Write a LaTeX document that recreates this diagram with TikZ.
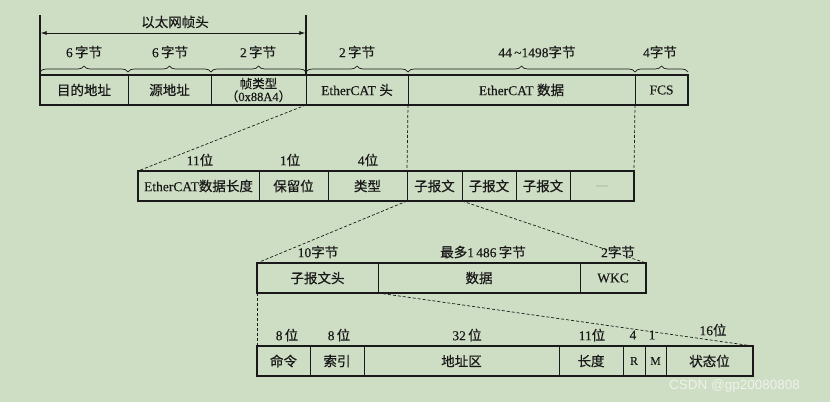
\documentclass[tikz,border=0pt]{standalone}
\usepackage{fontspec}
\setmainfont[FakeBold=0.25]{Liberation Serif}
\newfontfamily\cjk[FakeBold=0.6]{Noto Sans CJK SC}
\newfontfamily\wmfont{Liberation Sans}
\newcommand\zhtext[1]{{\cjk #1}}
\usetikzlibrary{decorations.pathreplacing,arrows.meta}
\definecolor{bg}{RGB}{206,222,196}
\definecolor{ink}{RGB}{25,25,25}
\definecolor{wmcol}{RGB}{238,242,235}
\begin{document}
\begin{tikzpicture}[x=1pt,y=-1pt,
  cell/.style={draw=ink,line width=0.7pt,minimum height=30pt,inner sep=0pt,outer sep=0pt,anchor=north west,font=\fontsize{13.5}{15}\selectfont,text=ink},
  lbl/.style={font=\fontsize{13.5}{15}\selectfont,text=ink,inner sep=0pt},
  brc/.style={decorate,decoration={brace,amplitude=6pt},draw=ink,line width=0.7pt},
  dsh/.style={draw=ink,dash pattern=on 3pt off 2pt,line width=0.7pt},
  frame/.style={draw=ink,line width=1.3pt}
]
\fill[bg] (0,0) rectangle (830,402);
\useasboundingbox (0,0) rectangle (830,402);

% ---------- row 1 : Ethernet frame ----------
\node[cell,minimum width=88pt] (a1) at (40,75) {\zhtext{目的地址}};
\node[cell,minimum width=83pt] (a2) at (128,75) {\zhtext{源地址}};
\node[cell,minimum width=95pt,align=center,font=\fontsize{12.5}{11.5}\selectfont] (a3) at (211,75) {\zhtext{帧类型}\\\zhtext{（}0x88A4\zhtext{）}};
\node[cell,minimum width=102pt] (a4) at (306,75) {EtherCAT \zhtext{头}};
\node[cell,minimum width=227pt] (a5) at (408,75) {EtherCAT \zhtext{数据}};
\node[cell,minimum width=53pt] (a6) at (635,75) {FCS};
\draw[frame] (a1.north west) rectangle (a6.south east);

% braces
\draw[brc] ([yshift=3pt]a1.north west) -- ([yshift=3pt]a1.north east);
\draw[brc] ([yshift=3pt]a2.north west) -- ([yshift=3pt]a2.north east);
\draw[brc] ([yshift=3pt]a3.north west) -- ([yshift=3pt]a3.north east);
\draw[brc] ([yshift=3pt]a4.north west) -- ([yshift=3pt]a4.north east);
\draw[brc] ([yshift=3pt]a5.north west) -- ([yshift=3pt]a5.north east);
\draw[brc] ([yshift=3pt]a6.north west) -- ([yshift=3pt]a6.north east);
\node[lbl] (b1) at (84,52) {6\,\zhtext{字节}};
\node[lbl] (b2) at (170,52) {6\,\zhtext{字节}};
\node[lbl] (b3) at (258,52) {2\,\zhtext{字节}};
\node[lbl] (b4) at (357,52) {2\,\zhtext{字节}};
\node[lbl] (b5) at (537,52) {44\,\textasciitilde1498\zhtext{字节}};
\node[lbl] (b6) at (660,52) {4\zhtext{字节}};

% Ethernet header span
\coordinate (hL) at (40,15);
\coordinate (hR) at (306,15);
\coordinate (arL) at (40.7,33);
\coordinate (arR) at (305.3,33);
\draw[ink,line width=1.3pt] (hL) -- (a1.north west);
\draw[ink,line width=1.3pt] (hR) -- (a4.north west);
\draw[ink,line width=0.7pt,{Latex[length=6pt,width=4pt]}-{Latex[length=6pt,width=4pt]}] (arL) -- (arR);
\node[lbl] (eh) at (175,22) {\zhtext{以太网帧头}};

% ---------- row 2 : EtherCAT data ----------
\node[cell,minimum width=121pt] (c1) at (138,171) {EtherCAT\zhtext{数据长度}};
\node[cell,minimum width=69pt] (c2) at (259,171) {\zhtext{保留位}};
\node[cell,minimum width=79pt] (c3) at (328,171) {\zhtext{类型}};
\node[cell,minimum width=55pt] (c4) at (407,171) {\zhtext{子报文}};
\node[cell,minimum width=54pt] (c5) at (462,171) {\zhtext{子报文}};
\node[cell,minimum width=54pt] (c6) at (516,171) {\zhtext{子报文}};
\node[cell,minimum width=64pt,font=\fontsize{8}{8}\selectfont,text=ink!55] (c7) at (570,171) {......};
\draw[frame] (c1.north west) rectangle (c7.south east);
\node[lbl] (l1) at (200,160) {11\zhtext{位}};
\node[lbl] (l2) at (290,160) {1\zhtext{位}};
\node[lbl] (l3) at (368,160) {4\zhtext{位}};

\draw[dsh] (a3.south east) -- (c1.north west);
\draw[dsh] (a5.south west) -- (c4.north west);
\draw[dsh] (a5.south east) -- (c7.north east);

% ---------- row 3 : sub-telegram ----------
\node[cell,minimum width=121pt] (d1) at (257,263) {\zhtext{子报文头}};
\node[cell,minimum width=202pt] (d2) at (378,263) {\zhtext{数据}};
\node[cell,minimum width=66pt] (d3) at (580,263) {WKC};
\draw[frame] (d1.north west) rectangle (d3.south east);
\node[lbl] (m1) at (318,252) {10\zhtext{字节}};
\node[lbl] (m2) at (483,252) {\zhtext{最多}1\,486\,\zhtext{字节}};
\node[lbl] (m3) at (618,252) {2\zhtext{字节}};

\draw[dsh] (c4.south west) -- (d1.north west);
\draw[dsh] (c5.south west) -- (d3.north east);

% ---------- row 4 : sub-telegram header ----------
\node[cell,minimum width=53pt] (e1) at (257,346) {\zhtext{命令}};
\node[cell,minimum width=54pt] (e2) at (310,346) {\zhtext{索引}};
\node[cell,minimum width=195pt] (e3) at (364,346) {\zhtext{地址区}};
\node[cell,minimum width=64pt] (e4) at (559,346) {\zhtext{长度}};
\node[cell,minimum width=22pt,font=\fontsize{12}{13}\selectfont] (e5) at (623,346) {R};
\node[cell,minimum width=21pt,font=\fontsize{12}{13}\selectfont] (e6) at (645,346) {M};
\node[cell,minimum width=87pt] (e7) at (666,346) {\zhtext{状态位}};
\draw[frame] (e1.north west) rectangle (e7.south east);
\node[lbl] (n1) at (287,335) {8\,\zhtext{位}};
\node[lbl] (n2) at (339,335) {8\,\zhtext{位}};
\node[lbl] (n3) at (467,335) {32\,\zhtext{位}};
\node[lbl] (n4) at (592,335) {11\zhtext{位}};
\node[lbl] (n5) at (633,335) {4};
\node[lbl] (n6) at (652,335) {1};
\node[lbl] (n7) at (713,330) {16\zhtext{位}};

\draw[dsh] (d1.south west) -- (e1.north west);
\draw[dsh] (d2.south west) -- (e7.north east);

% watermark
\node[anchor=west,inner sep=0pt,font=\wmfont\fontsize{13.5}{14}\selectfont,text=wmcol] (wm) at (669,386) {CSDN @gp20080808};
\end{tikzpicture}
\end{document}
